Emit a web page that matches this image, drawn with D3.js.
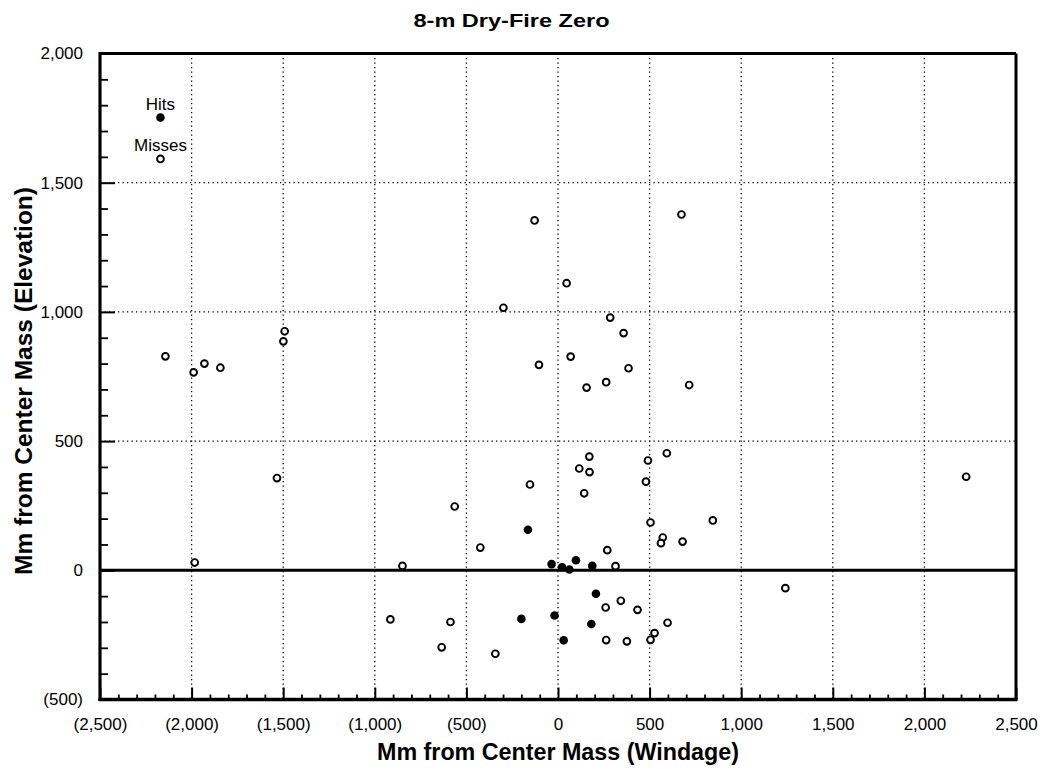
<!DOCTYPE html>
<html>
<head>
<meta charset="utf-8">
<script src="https://cdn.jsdelivr.net/npm/d3@7"></script>
<style>
  html, body { margin: 0; padding: 0; background: #fff; }
  svg { display: block; font-family: "Liberation Sans", Arial, sans-serif; }
</style>
</head>
<body>
<svg id="chart" width="1043" height="770"></svg>
<script>
// ---------------- data ----------------
const title = "8-m Dry-Fire Zero";
const xTitle = "Mm from Center Mass (Windage)";
const yTitle = "Mm from Center Mass (Elevation)";

const xTicks = [-2500, -2000, -1500, -1000, -500, 0, 500, 1000, 1500, 2000, 2500];
const yTicks = [-500, 0, 500, 1000, 1500, 2000];

// Hits (filled dots): [windage, elevation]
const hitsX = [-164, -35, 22, 62, 98, 187, 207, -19, -200, 182, 31];
const hitsY = [157, 24, 12, 3, 39, 17, -91, -175, -188, -208, -271];

// Misses (open circles): [windage, elevation]
const missX = [-2143, -1989, -1930, -1843, -1492, -1499, -1534, -1983, -849, -915,
               -564, -424, -587, -635, -342, -153, -128, 674, 47, -298,
               285, 358, 69, -104, 385, 156, 263, 716, 171, 116,
               172, 143, 491, 594, 480, 505, 572, 562, 680, 845,
               269, 314, 260, 343, 434, 598, 527, 505, 263, 376,
               2228, 1241];
const missY = [828, 766, 800, 784, 925, 886, 357, 30, 17, -190,
               247, 88, -200, -298, -323, 332, 1354, 1377, 1111, 1016,
               978, 918, 827, 795, 782, 707, 728, 717, 440, 394,
               380, 298, 425, 453, 343, 185, 127, 105, 111, 193,
               78, 16, -144, -118, -153, -203, -243, -269, -270, -275,
               362, -69];

const legendLabels = ["Hits", "Misses"];
const legendX = -2170;          // data units
const legendY = [1752, 1592];   // data units

// ---------------- layout ----------------
const svg = d3.select("#chart");
const L = 100, R = 1016, T = 53.5, B = 699.5;

const x = d3.scaleLinear().domain([-2500, 2500]).range([L, R]);
const y = d3.scaleLinear().domain([-500, 2000]).range([B, T]);

const fmt = d => d < 0 ? "(" + d3.format(",")(-d) + ")" : d3.format(",")(d);

// grid (dotted)
const grid = svg.append("g").attr("stroke", "#000").attr("stroke-width", 1.3)
  .attr("stroke-dasharray", "1.3,3.2");
grid.selectAll("line.v").data(xTicks.filter(d => d > -2500 && d < 2500))
  .join("line").attr("class", "v")
  .attr("x1", d => x(d)).attr("x2", d => x(d))
  .attr("y1", y(2000)).attr("y2", y(-500));
grid.selectAll("line.h").data(yTicks.filter(d => d > 0 && d < 2000))
  .join("line").attr("class", "h")
  .attr("x1", x(-2500)).attr("x2", x(2500))
  .attr("y1", d => y(d)).attr("y2", d => y(d));

// minor ticks
const minorX = d3.range(-2500, 2501, 100).filter(d => d % 500 !== 0);
const minorY = d3.range(-500, 2001, 100).filter(d => d % 500 !== 0);

const xMinor = svg.append("g").attr("transform", `translate(0,${B})`)
  .call(d3.axisBottom(x).tickValues(minorX).tickSize(-5).tickFormat(""));
const yMinor = svg.append("g").attr("transform", `translate(${L},0)`)
  .call(d3.axisLeft(y).tickValues(minorY).tickSize(-8).tickFormat(""));
[xMinor, yMinor].forEach(g => {
  g.select(".domain").remove();
  g.selectAll(".tick line").attr("stroke", "#000").attr("stroke-width", 1.8);
});

// major axes
const xAxis = svg.append("g").attr("transform", `translate(0,${B})`)
  .call(d3.axisBottom(x).tickValues(xTicks).tickSize(-12).tickPadding(18).tickFormat(fmt));
const yAxis = svg.append("g").attr("transform", `translate(${L},0)`)
  .call(d3.axisLeft(y).tickValues(yTicks).tickSize(-15).tickPadding(17).tickFormat(fmt));
[xAxis, yAxis].forEach(g => {
  g.select(".domain").remove();
  g.selectAll(".tick line").attr("stroke", "#000").attr("stroke-width", 2);
  g.selectAll(".tick text").attr("fill", "#000")
    .style("font-size", "17px").style("font-family", "'Liberation Sans', Arial, sans-serif");
});

// frame and zero line
const frame = svg.append("g").attr("stroke", "#000").attr("fill", "none");
frame.append("line").attr("x1", x(-2500)).attr("x2", x(2500)).attr("y1", y(2000)).attr("y2", y(2000)).attr("stroke-width", 3);
frame.append("line").attr("x1", x(2500)).attr("x2", x(2500)).attr("y1", y(2000)).attr("y2", y(-500)).attr("stroke-width", 3);
frame.append("line").attr("x1", x(-2500)).attr("x2", x(-2500)).attr("y1", y(2000) - 1.5).attr("y2", y(-500) + 1.5).attr("stroke-width", 3.2);
frame.append("line").attr("x1", x(-2500) - 1.5).attr("x2", x(2500) + 1.5).attr("y1", y(-500)).attr("y2", y(-500)).attr("stroke-width", 3.4);
frame.append("line").attr("x1", x(-2500)).attr("x2", x(2500)).attr("y1", y(0)).attr("y2", y(0)).attr("stroke-width", 3);

// points
const misses = missX.map((d, i) => ({ x: d, y: missY[i] }));
const hits = hitsX.map((d, i) => ({ x: d, y: hitsY[i] }));

svg.append("g").selectAll("circle").data(misses).join("circle")
  .attr("cx", d => x(d.x)).attr("cy", d => y(d.y)).attr("r", 3.4)
  .attr("fill", "#fff").attr("stroke", "#000").attr("stroke-width", 1.9);
svg.append("g").selectAll("circle").data(hits).join("circle")
  .attr("cx", d => x(d.x)).attr("cy", d => y(d.y)).attr("r", 4.3)
  .attr("fill", "#000");

// legend
const lg = svg.append("g");
lg.selectAll("text").data(legendLabels).join("text")
  .attr("x", x(legendX)).attr("y", (d, i) => y(legendY[i]) - 7.5)
  .attr("text-anchor", "middle").style("font-size", "17px").text(d => d);
lg.append("circle").attr("cx", x(legendX)).attr("cy", y(legendY[0])).attr("r", 4.3).attr("fill", "#000");
lg.append("circle").attr("cx", x(legendX)).attr("cy", y(legendY[1])).attr("r", 3.4)
  .attr("fill", "#fff").attr("stroke", "#000").attr("stroke-width", 1.9);

// titles
svg.append("text").attr("x", 511.5).attr("y", 26.5).attr("text-anchor", "middle")
  .style("font-size", "18px").style("font-weight", "bold")
  .attr("textLength", 196).attr("lengthAdjust", "spacingAndGlyphs").text(title);
svg.append("text").attr("x", (L + R) / 2).attr("y", 760).attr("text-anchor", "middle")
  .style("font-size", "23px").style("font-weight", "bold")
  .attr("textLength", 362).attr("lengthAdjust", "spacingAndGlyphs").text(xTitle);
svg.append("text").attr("transform", "translate(31.5,381) rotate(-90)").attr("text-anchor", "middle")
  .style("font-size", "23px").style("font-weight", "bold")
  .attr("textLength", 388).attr("lengthAdjust", "spacingAndGlyphs").text(yTitle);
</script>
</body>
</html>
